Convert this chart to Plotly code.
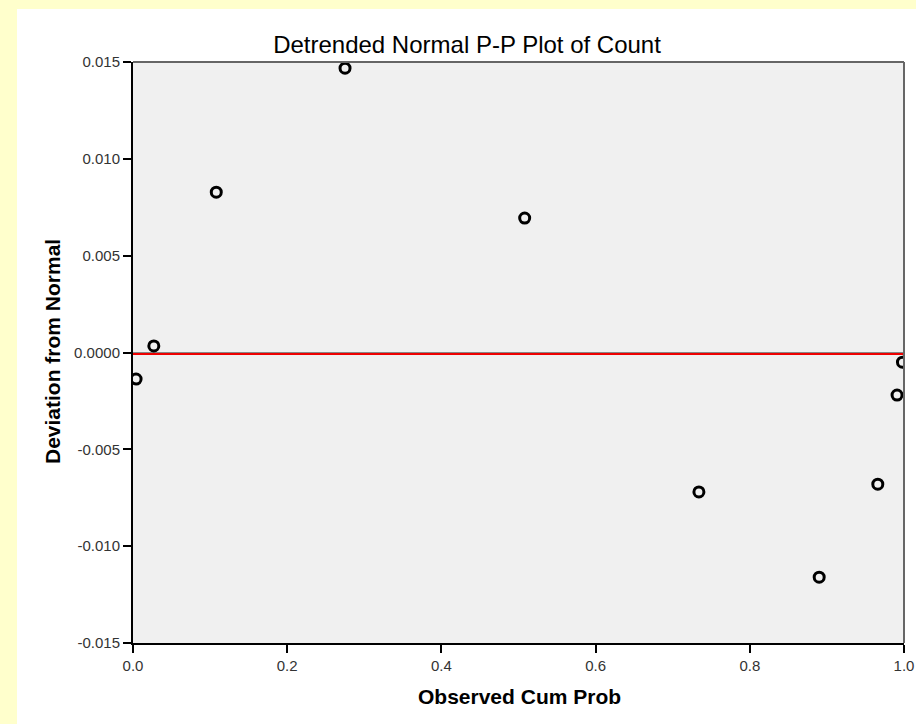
import plotly.graph_objects as go

# Data
observed_cum_prob = [0.004, 0.027, 0.108, 0.275, 0.508, 0.734, 0.890, 0.966, 0.991, 0.998]
deviation = [-0.00137, 0.00034, 0.00828, 0.01468, 0.00694, -0.00720, -0.01160, -0.00680, -0.00220, -0.00050]

fit_x = [0.0, 1.0]
fit_y = [-0.00008, -0.00008]

y_tickvals = [0.015, 0.010, 0.005, 0.0, -0.005, -0.010, -0.015]
y_ticktext = ["0.015", "0.010", "0.005", "0.0000", "-0.005", "-0.010", "-0.015"]
x_tickvals = [0.0, 0.2, 0.4, 0.6, 0.8, 1.0]
x_ticktext = ["0.0", "0.2", "0.4", "0.6", "0.8", "1.0"]

FONT = "Liberation Sans, Arial, sans-serif"
W, H = 916, 724
L, R, T, B = 133, 12, 62, 81
pw = W - L - R
ph = H - T - B

fig = go.Figure()
fig.add_trace(go.Scatter(
    x=fit_x, y=fit_y, mode="lines",
    line=dict(color="#ee0000", width=2),
    hoverinfo="skip", showlegend=False,
))
fig.add_trace(go.Scatter(
    x=observed_cum_prob, y=deviation, mode="markers",
    marker=dict(symbol="circle-open", size=10, color="black", line=dict(width=3, color="black")),
    showlegend=False,
))

def px_to_paper_x(px):
    return (px - L) / pw

def py_to_paper_y(py):
    return 1 - (py - T) / ph

shapes = [
    dict(type="rect", xref="paper", yref="paper",
         x0=px_to_paper_x(0), x1=px_to_paper_x(17), y0=py_to_paper_y(H + 5), y1=py_to_paper_y(-5),
         fillcolor="#FFFFCC", line=dict(width=0), layer="below"),
    dict(type="rect", xref="paper", yref="paper",
         x0=px_to_paper_x(0), x1=px_to_paper_x(W + 5), y0=py_to_paper_y(9), y1=py_to_paper_y(-5),
         fillcolor="#FFFFCC", line=dict(width=0), layer="below"),
    dict(type="line", xref="paper", yref="paper", x0=0, x1=1, y0=1, y1=1,
         line=dict(color="#666666", width=2), layer="above"),
    dict(type="line", xref="paper", yref="paper", x0=1, x1=1, y0=0, y1=1,
         line=dict(color="#666666", width=2), layer="above"),
]

fig.update_layout(
    width=W, height=H, autosize=False,
    margin=dict(l=L, r=R, t=T, b=B, pad=0),
    paper_bgcolor="white",
    plot_bgcolor="#F0F0F0",
    font=dict(family=FONT, color="#222222"),
    title=dict(text="Detrended Normal P-P Plot of Count", x=467 / W, xref="container",
               xanchor="center", y=1 - 45 / H, yref="container", yanchor="middle",
               font=dict(family=FONT, size=24, color="black")),
    shapes=shapes,
    annotations=[
        dict(text="<b>Observed Cum Prob</b>", xref="paper", yref="paper",
             x=px_to_paper_x(519), y=py_to_paper_y(696), xanchor="center", yanchor="middle",
             showarrow=False, font=dict(family=FONT, size=21, color="black")),
        dict(text="<b>Deviation from Normal</b>", xref="paper", yref="paper",
             x=px_to_paper_x(52), y=py_to_paper_y(352), xanchor="center", yanchor="middle",
             textangle=-90, showarrow=False, font=dict(family=FONT, size=21, color="black")),
    ],
)

fig.update_xaxes(
    range=[0, 1], tickvals=x_tickvals, ticktext=x_ticktext,
    ticks="outside", ticklen=8, tickwidth=2, tickcolor="black",
    showline=True, linecolor="black", linewidth=2,
    showgrid=False, zeroline=False, ticklabeloverflow="allow", automargin=False,
    tickfont=dict(family=FONT, size=15, color="#333333"),
)
fig.update_yaxes(
    range=[-0.015, 0.015], tickvals=y_tickvals, ticktext=y_ticktext,
    ticks="outside", ticklen=8, tickwidth=2, tickcolor="black",
    showline=True, linecolor="black", linewidth=2, automargin=False,
    showgrid=False, zeroline=True, zerolinecolor="#888888", zerolinewidth=1,
    tickfont=dict(family=FONT, size=15, color="#333333"),
)

fig.write_html("out.html", config={"responsive": False})
